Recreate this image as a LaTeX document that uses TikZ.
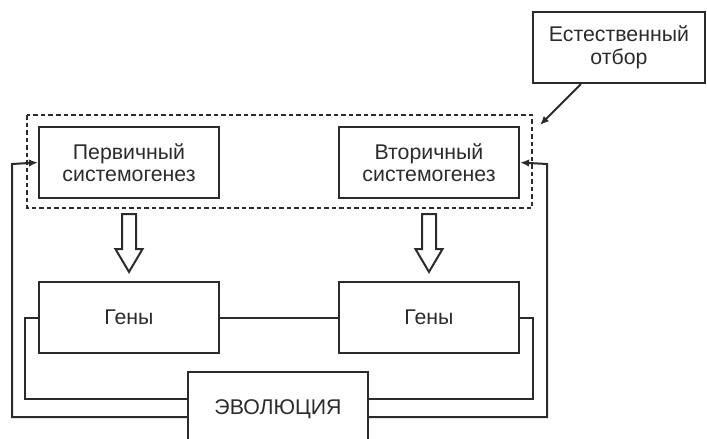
\documentclass[tikz,border=0pt]{standalone}
\usepackage{fontspec}
\setmainfont{Liberation Sans}
\usetikzlibrary{calc,arrows.meta}
\definecolor{ink}{HTML}{2B2B2B}
\begin{document}
\begin{tikzpicture}[x=1pt,y=-1pt,
  every node/.style={font=\fontsize{21.3}{22.5}\selectfont, text=ink},
  box/.style={draw=ink, line width=2.2pt, minimum width=180pt, minimum height=71pt, align=center, inner sep=0pt},
  conn/.style={draw=ink, line width=2pt},
  arr/.style={conn, -{Latex[length=9pt,width=7.5pt]}},
  dashbox/.style={draw=ink, line width=2.2pt, dash pattern=on 4.5pt off 3pt},
  blockarrow/.style={draw=ink, line width=2pt, fill=white, line join=miter}]
\useasboundingbox (0,0) rectangle (707,439);
\clip (0,0) rectangle (707,439);
\draw[dashbox] (27,115) rectangle (532,208);
\node[box] (p1) at (129,162.5) {Первичный\\системогенез};
\node[box] (p2) at (429,162.5) {Вторичный\\системогенез};
\node[box, minimum width=172pt] (nat) at (619,47.5) {Естественный\\отбор};
\node[box] (g1) at (129,317.5) {Гены};
\node[box] (g2) at (429,317.5) {Гены};
\node[box, minimum height=74pt] (evo) at (278,409) {ЭВОЛЮЦИЯ};
\coordinate (natend) at (540,125);
\draw[arr] ($(nat.south west)+(49,0)$) -- (natend);
\foreach \n in {1,2}{
  \draw[blockarrow] ($(p\n.south)+(-7,15)$) -- ++(14,0) -- ++(0,35) -- ++(6.5,0)
    -- ($(g\n.north)+(0,-9)$) -- ($(p\n.south)+(-13.5,50)$) -- ++(6.5,0) -- cycle;
}
\draw[conn] (g1.east) -- (g2.west);
\draw[conn] (g1.west) -- ++(-13,0) |- ($(evo.west)+(0,-10)$);
\draw[conn] (g2.east) -- ++(13,0) |- ($(evo.east)+(0,-10)$);
\draw[arr] ($(evo.west)+(0,8)$) -| (12,164) -- (p1.west);
\draw[arr] ($(evo.east)+(0,8)$) -| (547,164) -- (p2.east);
\end{tikzpicture}
\end{document}
